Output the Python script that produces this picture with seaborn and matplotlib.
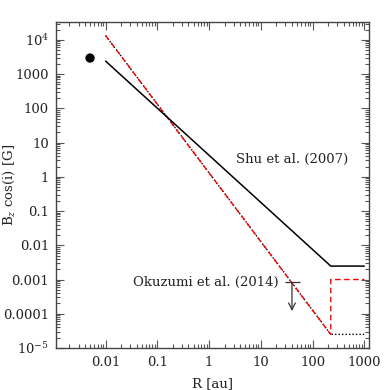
import numpy as np
import pandas as pd
import seaborn as sns
import matplotlib.pyplot as plt
from matplotlib.ticker import LogLocator, FixedLocator, FixedFormatter, NullFormatter

# Shu et al. (2007) model, B ~ R^-11/8 then flat
shu_R = [0.01, 225, 1000]
shu_B = [2400, 0.00247, 0.00247]

# Okuzumi-type profile, R^-2 with dotted floor
oku_R = [0.01, 225, 1000]
oku_B = [13400, 2.5e-5, 2.5e-5]

# red dashed branch jumping up to 1e-3
red_R = [0.01, 225, 225, 1000]
red_B = [13400, 2.5e-5, 0.001, 0.001]

# single measurement
dot_R = [0.005]
dot_B = [2950]

# Okuzumi et al. (2014) upper limit
lim_R = 40
lim_B = 8.2e-4
lim_Rlo, lim_Rhi = 29, 57
lim_Bend = 1.2e-4

ytick_vals = [1e-5, 1e-4, 1e-3, 1e-2, 1e-1, 1, 10, 100, 1000, 1e4]
ytick_labs = ['$10^{-5}$', '0.0001', '0.001', '0.01', '0.1', '1', '10', '100', '1000', '$10^4$']
xtick_vals = [0.01, 0.1, 1, 10, 100, 1000]
xtick_labs = ['0.01', '0.1', '1', '10', '100', '1000']

sns.set_style('ticks')
plt.rcParams['font.family'] = ['DejaVu Serif']
plt.rcParams['mathtext.fontset'] = 'dejavuserif'

fs = 9.5
fig = plt.figure(figsize=(3.9, 3.9), dpi=100)
ax = fig.add_axes([0.1436, 0.1077, 0.8024, 0.8367])

sns.lineplot(x=oku_R, y=oku_B, ax=ax, color='black', lw=1.0, ls=(0, (1, 1.5)),
             sort=False, estimator=None)
sns.lineplot(x=red_R, y=red_B, ax=ax, color='red', lw=1.0, ls=(0, (4, 2.5)),
             sort=False, estimator=None)
sns.lineplot(x=shu_R, y=shu_B, ax=ax, color='black', lw=1.1, sort=False, estimator=None)
sns.scatterplot(x=dot_R, y=dot_B, ax=ax, color='black', s=45, edgecolor='none')

ax.hlines(lim_B, lim_Rlo, lim_Rhi, color='#333333', lw=0.9)
ax.annotate('', xy=(lim_R, lim_Bend), xytext=(lim_R, lim_B),
            arrowprops=dict(arrowstyle='->', color='#333333', lw=0.9,
                            mutation_scale=12, shrinkA=0, shrinkB=0))

ax.set_xscale('log')
ax.set_yscale('log')
ax.set_xlim(0.0011, 1230)
ax.set_ylim(1e-5, 3.4e4)

ax.yaxis.set_major_locator(FixedLocator(ytick_vals))
ax.yaxis.set_major_formatter(FixedFormatter(ytick_labs))
ax.xaxis.set_major_locator(FixedLocator(xtick_vals))
ax.xaxis.set_major_formatter(FixedFormatter(xtick_labs))
ax.xaxis.set_minor_locator(LogLocator(base=10, subs=np.arange(2, 10), numticks=20))
ax.yaxis.set_minor_locator(LogLocator(base=10, subs=np.arange(2, 10), numticks=20))
ax.xaxis.set_minor_formatter(NullFormatter())
ax.yaxis.set_minor_formatter(NullFormatter())

ax.tick_params(which='both', direction='in', top=True, right=True, color='#555555',
               labelsize=fs, labelcolor='#222222', width=0.8)
ax.tick_params(which='major', length=6)
ax.tick_params(axis='x', which='major', pad=6)
ax.tick_params(axis='y', which='major', pad=5)
ax.tick_params(which='minor', length=3)
for s in ax.spines.values():
    s.set_color('#444444')
    s.set_linewidth(1.0)

ax.set_xlabel('R [au]', fontsize=fs, color='#222222')
ax.set_ylabel('B$_z$ cos(i) [G]', fontsize=fs, color='#222222')
ax.xaxis.set_label_coords(0.5, -0.088)
ax.yaxis.set_label_coords(-0.125, 0.5)

ax.text(0.754, 0.579, 'Shu et al. (2007)', transform=ax.transAxes, fontsize=fs,
        color='#222222', ha='center', va='center')
ax.text(0.712, 0.202, 'Okuzumi et al. (2014)', transform=ax.transAxes, fontsize=fs,
        color='#222222', ha='right', va='center')

fig.savefig('out.png', dpi=100)
